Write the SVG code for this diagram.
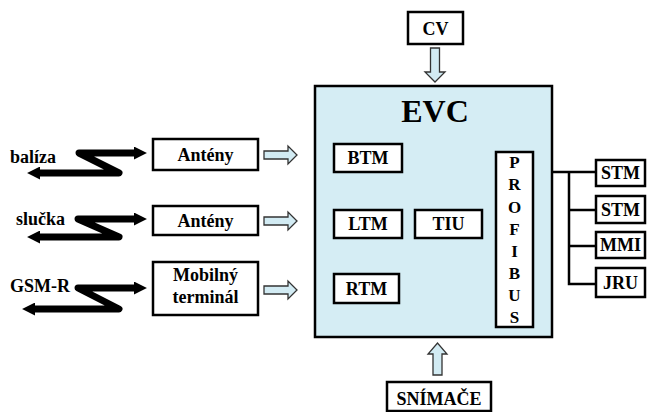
<svg xmlns="http://www.w3.org/2000/svg" width="647" height="412" viewBox="0 0 647 412" font-family="Liberation Serif, serif" font-weight="bold">
<style>
.lbl{font-size:18px;text-anchor:middle;}
.side{font-size:18px;}
.box{fill:#fff;stroke:#000;stroke-width:2.5;}
.evc{fill:#d5edf4;stroke:#000;stroke-width:2.5;}
.barrow{fill:#d2ebf3;stroke:#333;stroke-width:1.3;stroke-linejoin:miter;}
.zig{fill:none;stroke:#000;stroke-width:7;stroke-linejoin:round;marker-start:url(#ah);marker-end:url(#ah);}
.bus{fill:none;stroke:#000;stroke-width:2.5;}
</style>
<defs>
<marker id="ah" viewBox="0 0 12 12" refX="1" refY="6" markerWidth="13" markerHeight="13" markerUnits="userSpaceOnUse" orient="auto-start-reverse">
<path d="M0,0 L12,6 L0,12 z" fill="#000"/>
</marker>
</defs>
<rect width="647" height="412" fill="#fff"/>

<g id="evc">
<rect class="evc" x="315" y="86" width="237" height="251"/>
<text x="435" y="122" style="font-size:32px;text-anchor:middle">EVC</text>
</g>
<g id="btm"><rect class="box" x="334" y="144" width="68" height="28"/><text class="lbl" x="368" y="164">BTM</text></g>
<g id="ltm"><rect class="box" x="334" y="210" width="68" height="28"/><text class="lbl" x="368" y="230">LTM</text></g>
<g id="tiu"><rect class="box" x="415" y="210" width="67" height="28"/><text class="lbl" x="448.5" y="230">TIU</text></g>
<g id="rtm"><rect class="box" x="334" y="274" width="65" height="29"/><text class="lbl" x="366.5" y="295">RTM</text></g>
<g id="profibus">
<rect class="box" x="496" y="152" width="37" height="175"/>
<text class="lbl" style="font-size:17px" x="514.5" y="168">P</text>
<text class="lbl" style="font-size:17px" x="514.5" y="190">R</text>
<text class="lbl" style="font-size:17px" x="514.5" y="213">O</text>
<text class="lbl" style="font-size:17px" x="514.5" y="235">F</text>
<text class="lbl" style="font-size:17px" x="514.5" y="257">I</text>
<text class="lbl" style="font-size:17px" x="514.5" y="279">B</text>
<text class="lbl" style="font-size:17px" x="514.5" y="301">U</text>
<text class="lbl" style="font-size:17px" x="514.5" y="323">S</text>
</g>

<g id="cv"><rect class="box" x="408" y="12" width="55" height="32"/><text class="lbl" x="435.5" y="35">CV</text></g>
<g id="snimace"><rect class="box" x="387" y="382" width="104" height="29"/><text class="lbl" x="439" y="405">SNÍMAČE</text></g>

<g id="anteny1"><rect class="box" x="153" y="139" width="105" height="31"/><text class="lbl" x="205.5" y="160.5">Antény</text></g>
<g id="anteny2"><rect class="box" x="153" y="206" width="105" height="29"/><text class="lbl" x="205.5" y="226.5">Antény</text></g>
<g id="mobilny"><rect class="box" x="153" y="262" width="105" height="53"/><text class="lbl" x="205.5" y="281">Mobilný</text><text class="lbl" x="205.5" y="303">terminál</text></g>

<g id="stm1"><rect class="box" x="596" y="160" width="49" height="26"/><text class="lbl" x="620.5" y="179">STM</text></g>
<g id="stm2"><rect class="box" x="596" y="196" width="49" height="27"/><text class="lbl" x="620.5" y="215.5">STM</text></g>
<g id="mmi"><rect class="box" x="596" y="232" width="49" height="26"/><text class="lbl" x="620.5" y="251">MMI</text></g>
<g id="jru"><rect class="box" x="596" y="268" width="49" height="29"/><text class="lbl" x="620.5" y="288.5">JRU</text></g>

<g id="balize"><text class="side" x="10" y="163">balíza</text></g>
<g id="slucka"><text class="side" x="16" y="225">slučka</text></g>
<g id="gsmr"><text class="side" x="10" y="292">GSM-R</text></g>

<g id="connectors">
<path class="zig" d="M135,153 L79,153 L119,173 L39,173"/>
<path class="zig" d="M135,219 L78,219 L119,237 L39,237"/>
<path class="zig" d="M135,288 L78,288 L119,309 L34,309"/>
<path class="barrow" d="M264,151 L288,151 L288,146 L297,155 L288,164 L288,159 L264,159 Z"/>
<path class="barrow" d="M264,217 L288,217 L288,212 L297,221 L288,230 L288,225 L264,225 Z"/>
<path class="barrow" d="M264,286 L288,286 L288,281 L297,290 L288,299 L288,294 L264,294 Z"/>
<path class="barrow" d="M430.5,48 L439.5,48 L439.5,72 L445,72 L435,82 L425,72 L430.5,72 Z"/>
<path class="barrow" d="M433,375 L442,375 L442,354 L447,354 L437.5,343 L428,354 L433,354 Z"/>
<path class="bus" d="M552,172 L596,172 M569,172 L569,284 L596,284 M569,210 L596,210 M569,246 L596,246"/>
</g>
</svg>
